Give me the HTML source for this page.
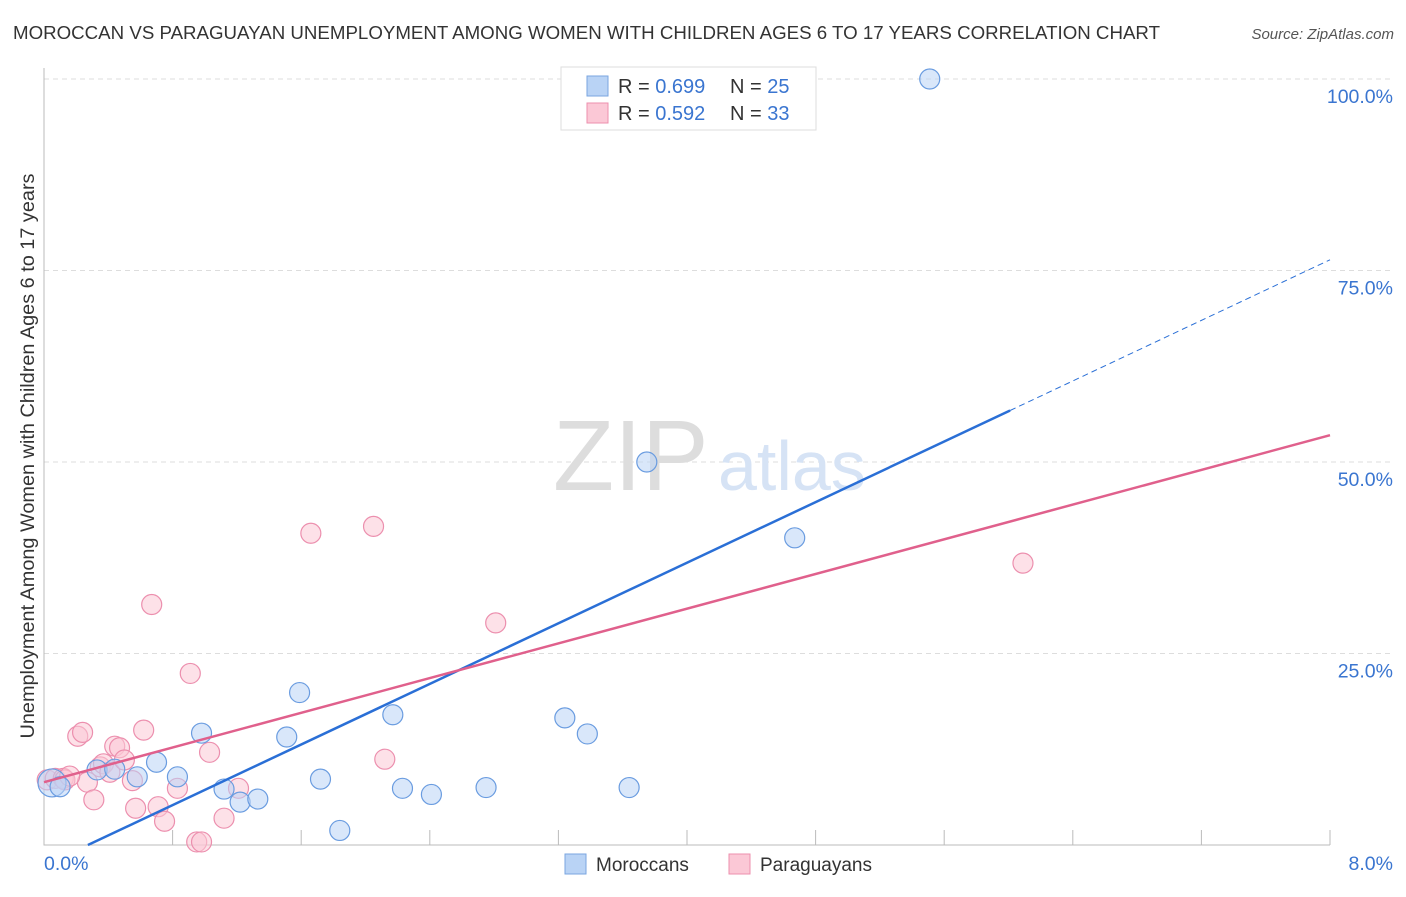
<!DOCTYPE html>
<html><head><meta charset="utf-8"><style>
body{margin:0;background:#fff;font-family:"Liberation Sans",sans-serif;}
svg text{font-family:"Liberation Sans",sans-serif;}
</style></head><body>
<svg id="chart" width="1406" height="892" xmlns="http://www.w3.org/2000/svg">
<text x="13" y="39" font-size="18" fill="#333" textLength="1147" lengthAdjust="spacingAndGlyphs">MOROCCAN VS PARAGUAYAN UNEMPLOYMENT AMONG WOMEN WITH CHILDREN AGES 6 TO 17 YEARS CORRELATION CHART</text>
<text x="1394" y="39" font-size="15" fill="#555" font-style="italic" text-anchor="end">Source: ZipAtlas.com</text>
<text transform="translate(34,456) rotate(-90)" font-size="19" fill="#333" text-anchor="middle" textLength="565" lengthAdjust="spacingAndGlyphs">Unemployment Among Women with Children Ages 6 to 17 years</text>
<g id="grid"></g>
<text x="553" y="490" font-size="100" fill="#ddd" font-family="Liberation Serif">ZIP</text>
<text x="718" y="490" font-size="70" fill="#d6e3f5">atlas</text>
<g id="marks"></g>
<g>
<rect x="561" y="67" width="255" height="63" fill="#fff" stroke="#ddd"/>
<rect x="587" y="76" width="21" height="20" fill="#b9d3f5" stroke="#7aa6e0"/>
<rect x="587" y="103" width="21" height="20" fill="#fbc8d6" stroke="#ec8fae"/>
<text x="618" y="93" font-size="20" fill="#333">R = <tspan fill="#3a75d0">0.699</tspan></text>
<text x="730" y="93" font-size="20" fill="#333">N = <tspan fill="#3a75d0">25</tspan></text>
<text x="618" y="120" font-size="20" fill="#333">R = <tspan fill="#3a75d0">0.592</tspan></text>
<text x="730" y="120" font-size="20" fill="#333">N = <tspan fill="#3a75d0">33</tspan></text>
</g>
<g>
<rect x="565" y="854" width="21" height="20" fill="#b9d3f5" stroke="#7aa6e0"/>
<text x="596" y="871" font-size="19" fill="#333">Moroccans</text>
<rect x="729" y="854" width="21" height="20" fill="#fbc8d6" stroke="#ec8fae"/>
<text x="760" y="871" font-size="19" fill="#333">Paraguayans</text>
</g>
</svg>
<script>
const yTicks=[25,50,75,100];
const yTickLabels=["25.0%","50.0%","75.0%","100.0%"];
const xTickLabels=["0.0%","8.0%"];
const moroccanX=[0.05,0.33,0.44,0.58,0.70,0.83,0.98,1.12,1.22,1.33,1.51,1.59,1.72,1.84,2.17,2.23,2.41,2.75,3.24,3.38,3.64,3.75,4.67,5.51,0.1];
const moroccanY=[8.1,9.8,9.9,8.9,10.8,8.9,14.6,7.3,5.6,6.0,14.1,19.9,8.6,1.9,17.0,7.4,6.6,7.5,16.6,14.5,7.5,50.0,40.1,100,7.6];
const paraguayanX=[0.02,0.07,0.12,0.13,0.21,0.24,0.27,0.31,0.35,0.37,0.41,0.44,0.47,0.50,0.55,0.57,0.62,0.67,0.71,0.75,0.83,0.91,0.95,0.98,1.03,1.12,1.21,1.66,2.05,2.12,2.81,6.09,0.16];
const paraguayanY=[8.5,8.7,8.7,8.5,14.2,14.7,8.2,5.9,10.2,10.6,9.5,12.9,12.7,11.1,8.4,4.8,15.0,31.4,5.0,3.1,7.4,22.4,0.4,0.4,12.1,3.5,7.4,40.7,41.6,11.2,29.0,36.8,9.0];
const moroccanLine=[-2.7,76.4];
const moroccanSolidEnd=6.01;
const paraguayanLine=[8.2,53.5];
const X=v=>44+v/8*1286, Y=v=>845-v/100*766;
const NS="http://www.w3.org/2000/svg";
function mk(p,t,a){const e=document.createElementNS(NS,t);for(const k in a)e.setAttribute(k,a[k]);p.appendChild(e);return e;}
const grid=document.getElementById('grid'), marks=document.getElementById('marks');
yTicks.forEach((t,i)=>{
 const l=mk(grid,'line',{x1:44,x2:1394,y1:Y(t),y2:Y(t),stroke:'#ddd','stroke-dasharray':'5,4'});
 
 
 const tx=mk(grid,'text',{x:1393,y:Y(t)+24,'font-size':19.5,fill:'#3a75d0','text-anchor':'end'});
 tx.textContent=yTickLabels[i];
 
 
});
const ax=mk(grid,'path',{d:`M44,68V845H1330`,stroke:'#bbb',fill:'none'});


for(let i=1;i<=10;i++){const t=mk(grid,'line',{x1:X(i*0.8),x2:X(i*0.8),y1:830,y2:845,stroke:'#bbb'});
 
 }
[[0,'start',44],[8,'end',1393]].forEach((d,i)=>{const t=mk(grid,'text',{x:d[2],y:870,'font-size':19.5,fill:'#3a75d0','text-anchor':d[1]});t.textContent=xTickLabels[i];
 
 });
function dots(xs,ys,f,s,name){xs.forEach((x,i)=>{const r=(i==0&&name=='moroccan-point')?14:10;const c=mk(marks,'circle',{cx:X(x),cy:Y(ys[i]),r:r,fill:f,'fill-opacity':0.55,stroke:s,'stroke-width':1.2});
 
 });}
dots(paraguayanX,paraguayanY,'#fbc8d6','#ec8fae','paraguayan-point');
dots(moroccanX,moroccanY,'#b9d3f5','#6a9ce0','moroccan-point');
const mAt=v=>moroccanLine[0]+(moroccanLine[1]-moroccanLine[0])*v/8;
const x0=-moroccanLine[0]/(moroccanLine[1]-moroccanLine[0])*8;
const bl=mk(marks,'line',{x1:X(x0),y1:Y(0),x2:X(moroccanSolidEnd),y2:Y(mAt(moroccanSolidEnd)),stroke:'#2a6fd6','stroke-width':2.5});


const bd=mk(marks,'line',{x1:X(moroccanSolidEnd),y1:Y(mAt(moroccanSolidEnd)),x2:X(8),y2:Y(moroccanLine[1]),stroke:'#2a6fd6','stroke-width':1,'stroke-dasharray':'6,4'});


const pl=mk(marks,'line',{x1:X(0),y1:Y(paraguayanLine[0]),x2:X(8),y2:Y(paraguayanLine[1]),stroke:'#e0608c','stroke-width':2.5});


</script>
</body></html>
